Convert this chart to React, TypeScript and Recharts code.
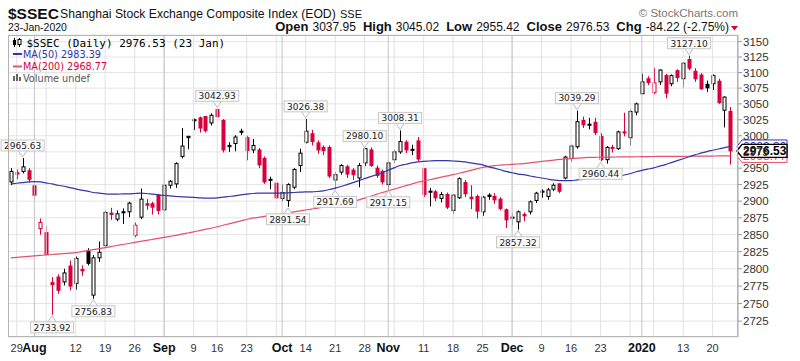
import React from 'react';
import { ComposedChart, Bar, Line, XAxis, YAxis, CartesianGrid, ReferenceLine, ReferenceDot } from 'recharts';

// ---------- data (index -1 = 26 Jul 2019, 121 = 23 Jan 2020, trading days) ----------
const FIRST_IDX = -1;
const priorClose = 2937.36;
const opens = [
  2929, 2943, 2945, 2946, 2923, 2859, 2853, 2780, 2788, 2781, 2804, 2779, 2799, 2825, 2762, 2816, 2834, 2882, 2873, 2884,
  2884, 2849, 2876, 2896, 2896, 2909, 2887, 2924, 2926, 2968, 2997, 3025, 3028, 3030, 3020, 3041, 3024, 2983, 2988, 3007,
  2997, 2978, 2978, 2965, 2933, 2927, 2904, 2901, 2921, 2954, 2990, 3003, 2989, 2982, 2982, 2932, 2944, 2952, 2947, 2935,
  2958, 2978, 2950, 2945, 2925, 2963, 2975, 2990, 2979, 2992, 2949, 2915, 2914, 2904, 2910, 2886, 2905, 2928, 2906, 2907,
  2884, 2909, 2907, 2903, 2887, 2876, 2869, 2880, 2884, 2901, 2915, 2907, 2918, 2926, 2935, 2965, 2983, 3024, 3018, 3021,
  2999, 2963, 2981, 2980, 3006, 2997, 3037, 3066, 3090, 3068, 3085, 3095, 3082, 3103, 3090, 3121, 3102, 3096, 3081, 3082,
  3086, 3040, 3037.95,
];
const highs = [
  2950, 2948, 2965.63, 2950, 2926, 2874, 2863, 2788, 2792, 2800, 2812, 2818, 2805, 2830, 2820, 2840, 2886, 2890, 2886, 2889,
  2899, 2868, 2919, 2903, 2899, 2911, 2926, 2932, 2959, 3012, 3000, 3027, 3030, 3031, 3035, 3042.93, 3026, 2990, 3001, 3011,
  3000, 2995, 2981, 2968, 2937, 2929, 2925, 2927, 2950, 2980, 3026.38, 3009, 2993, 2985, 2985, 2944, 2956, 2955, 2950, 2958,
  2980.1, 2982, 2954, 2948, 2960, 2978, 3008.31, 2993, 2986, 2998, 2950, 2920, 2917, 2914, 2913, 2911, 2936, 2932, 2924, 2910,
  2908, 2912, 2912, 2906, 2889, 2882, 2886, 2883, 2901, 2914, 2918, 2920, 2927, 2927, 2969, 2986, 3039.29, 3030, 3028, 3028,
  3004, 2984, 2986, 3008, 3036, 3041, 3052, 3098, 3094, 3107, 3105, 3098, 3097, 3105, 3117, 3127.1, 3107, 3099, 3087, 3097,
  3090, 3062, 3045.02,
];
const lows = [
  2924, 2933, 2942, 2928, 2902, 2850, 2819, 2733.92, 2764, 2776, 2769, 2770, 2790, 2805, 2756.83, 2810, 2830, 2872, 2870, 2866,
  2876, 2846, 2873, 2887, 2880, 2880, 2884, 2919, 2920, 2965, 2979, 3009, 3005, 3005, 3016, 3028, 2974, 2975, 2976, 3001,
  2962, 2973, 2950, 2926, 2918, 2903, 2900, 2891.54, 2918, 2944, 2988, 2985, 2972, 2970, 2935, 2917.69, 2940, 2935, 2932, 2921,
  2953, 2952, 2935, 2925, 2917.15, 2958, 2972, 2973, 2970, 2961, 2906, 2892, 2900, 2898, 2888, 2881, 2903, 2906, 2888, 2874,
  2878, 2902, 2896, 2886, 2860, 2864, 2857.32, 2870, 2880, 2897, 2905, 2902, 2915, 2912, 2933, 2960, 2980, 3012, 3010, 3001,
  2960.44, 2957, 2974, 2978, 2999, 2985, 3032, 3066, 3080, 3065, 3080, 3059, 3078, 3085, 3076, 3104, 3085, 3072, 3069, 3072,
  3050, 3013, 2955.42,
];
const closes = [
  2945, 2941, 2952, 2933, 2909, 2868, 2821, 2777, 2769, 2794, 2775, 2815, 2797, 2808, 2816, 2824, 2883, 2880, 2881, 2883,
  2897, 2864, 2903, 2894, 2891, 2886, 2924, 2930, 2957, 2984, 2999, 3024.7, 3012, 3008, 3032, 3030, 2978, 2985, 2998, 3006,
  2977, 2985, 2955, 2929, 2932, 2905, 2913, 2925, 2948, 2973, 3007, 2991, 2978, 2977, 2938, 2940, 2954, 2941, 2940, 2954,
  2980, 2954, 2939, 2929, 2958, 2975, 2991, 2978, 2978.7, 2964, 2910, 2914.8, 2905, 2910, 2891, 2909, 2934, 2911, 2903.6, 2885,
  2906, 2907, 2902, 2889, 2872, 2875.8, 2884, 2878, 2899, 2912, 2914.5, 2917, 2924, 2915, 2967, 2984, 3022, 3017, 3017.1, 3005,
  2963, 2982, 2981.9, 3006, 3005, 3038, 3050, 3085, 3084, 3083.4, 3104, 3067, 3095, 3092, 3115, 3107, 3090, 3074, 3075.5, 3095,
  3052, 3060.75, 2976.53,
];
const ma50 = [
  2926, 2927, 2928, 2929, 2929.5, 2929, 2927.5, 2926, 2924, 2922.5, 2920.5, 2918.5, 2916.5, 2915, 2913, 2912, 2911, 2910.5, 2910.5, 2911,
  2911, 2911.5, 2912, 2911.5, 2910.5, 2909.5, 2908.5, 2908, 2907, 2906.5, 2906, 2905.5, 2905, 2904.5, 2904.5, 2905, 2906, 2907, 2908, 2909.5,
  2910.5, 2911.5, 2912, 2912, 2912, 2912, 2912, 2912.5, 2913, 2913.5, 2914, 2914, 2914.5, 2915.5, 2917.5, 2919.5, 2922, 2925, 2928, 2931,
  2934, 2937, 2940, 2943, 2947, 2950.5, 2954, 2956, 2958, 2959.5, 2960.5, 2961, 2961.5, 2961.5, 2961.5, 2961, 2960.5, 2959.5, 2958, 2956.5,
  2955, 2952, 2950, 2947.5, 2945, 2943, 2941, 2940, 2938, 2936.5, 2935, 2933.5, 2932, 2931, 2931, 2931, 2932, 2933, 2934.5, 2935.5,
  2936.5, 2937, 2937.5, 2938, 2939.5, 2941.5, 2944.5, 2946.5, 2948.5, 2950.5, 2953, 2955.5, 2958.5, 2961.5, 2964.5, 2967.5, 2970.5, 2973, 2975.5, 2977.5,
  2979.5, 2981.5, 2983.39,
];
const ma200 = [
  2816, 2816.7, 2817.4, 2818.1, 2818.8, 2819.5, 2820.2, 2820.8, 2821.5, 2822.2, 2822.8, 2823.5, 2825, 2826.5, 2828, 2829.5, 2831, 2832.5, 2834, 2835.5,
  2837, 2838.5, 2840, 2841.5, 2843, 2844.5, 2846, 2847.5, 2849, 2850.8, 2852.5, 2854.2, 2856, 2857.8, 2859.5, 2861.7, 2863.9, 2866.1, 2868.3, 2870.5,
  2872.5, 2874.5, 2875.8, 2877.1, 2878.4, 2879.7, 2881, 2882.4, 2883.8, 2885.3, 2886.7, 2888.1, 2889.5, 2891.1, 2892.7, 2894.3, 2895.8, 2897.4, 2899, 2901.8,
  2904.6, 2907.4, 2910.2, 2913, 2915.6, 2918.2, 2920.8, 2923.3, 2925.9, 2928.5, 2930.4, 2932.3, 2934.3, 2936.2, 2938.1, 2940, 2942.2, 2944.4, 2946.6, 2948.8,
  2951, 2952.5, 2954, 2954.6, 2955.2, 2955.8, 2956.4, 2957, 2958.1, 2959.2, 2960.3, 2961.3, 2962.4, 2963.5, 2964.1, 2964.7, 2965.3, 2965.9, 2966.5, 2966.6,
  2966.8, 2966.9, 2967, 2967.2, 2967.3, 2967.4, 2967.5, 2967.6, 2967.8, 2967.9, 2968, 2968.1, 2968.1, 2968.2, 2968.2, 2968.3, 2968.4, 2968.5, 2968.5, 2968.6,
  2968.7, 2968.7, 2968.77,
];

const noteIdx = [1, 6, 13, 34, 46, 49, 54, 59, 63, 65, 85, 95, 99, 114];
const noteVals = [2965.63, 2733.92, 2756.83, 3042.93, 2891.54, 3026.38, 2917.69, 2980.1, 2917.15, 3008.31, 2857.32, 3039.29, 2960.44, 3127.1];
const noteSide = ['H', 'L', 'L', 'H', 'L', 'H', 'L', 'H', 'L', 'H', 'L', 'H', 'L', 'H'];

const tickIdx = [0, 3, 10, 15, 20, 25, 30, 34, 39, 45, 49, 54, 59, 63, 69, 74, 79, 84, 89, 94, 99, 106, 113, 118];
const tickLabels = ['29', 'Aug', '12', '19', '26', 'Sep', '9', '16', '23', 'Oct', '14', '21', '28', 'Nov', '11', '18', '25', 'Dec', '9', '16', '23', '2020', '13', '20'];
const monthLabels = ['Aug', 'Sep', 'Oct', 'Nov', 'Dec', '2020'];
const weekLines = [0, 5, 10, 15, 20, 25, 30, 34, 39, 44, 49, 54, 59, 64, 69, 74, 79, 84, 89, 94, 99, 104, 108, 113, 118];
const monthLines = [3, 25, 45, 63, 84, 106];
const yTicks = [2725, 2750, 2775, 2800, 2825, 2850, 2875, 2900, 2925, 2950, 2975, 3000, 3025, 3050, 3075, 3100, 3125, 3150];

const lastClose = 2976.53;
const lastMa50 = 2983.39;
const lastMa200 = 2968.77;

// ---------- layout / style ----------
const XMIN = -1.475;
const XMAX = 122.3;
const YMIN = 2702.7;
const YMAX = 3160.9;
const RED = '#d8003c';
const BLUE = '#3535a8';
const PINK = '#e5506c';
const SANS = '"Liberation Sans", Arial, sans-serif';
const VER = '"DejaVu Sans", Verdana, sans-serif';
const MONO = '"DejaVu Sans Mono", monospace';

const rows = opens.map((o, k) => ({
  i: k + FIRST_IDX,
  range: [lows[k], highs[k]],
  o,
  h: highs[k],
  l: lows[k],
  c: closes[k],
  prev: k > 0 ? closes[k - 1] : priorClose,
  ma50: ma50[k],
  ma200: ma200[k],
}));

const Candle = (props: any) => {
  const { x, y, width, height, payload } = props;
  if (x == null || y == null || !payload) return null;
  const top = Math.min(y, y + height);
  const bot = Math.max(y, y + height);
  const { o, h, l, c, prev } = payload;
  const lh = Math.log(h);
  const ll = Math.log(l);
  const py = (v: number) => top + ((bot - top) * (lh - Math.log(v))) / (lh - ll);
  const cx = Math.round(x + width / 2) + 0.5;
  const up = c >= o;
  const color = c < prev ? RED : '#000';
  const yo = py(o);
  const yc = py(c);
  const bt = Math.min(yo, yc);
  const bh = Math.max(1, Math.abs(yo - yc));
  return (
    <g>
      <line x1={cx} x2={cx} y1={top} y2={bot} stroke={color} strokeWidth={1} />
      <rect x={cx - 1.5} y={bt} width={3} height={bh} fill={up ? '#fff' : color} stroke={color} strokeWidth={1} />
    </g>
  );
};

const makeNote = (value: number, side: string) => (props: any) => {
  const { cx, cy } = props;
  if (cx == null || cy == null) return null;
  const w = 43;
  const hh = 11;
  const above = side === 'H';
  const by = above ? cy - 7 - hh : cy + 7;
  const edge = above ? by + hh : by;
  const tip = above ? cy - 1 : cy + 1;
  return (
    <g>
      <path d={`M${cx - 4},${edge} L${cx},${tip} L${cx + 4},${edge}`} fill="#fff" stroke="#bdbdbd" strokeWidth={1} />
      <rect x={cx - w / 2} y={by} width={w} height={hh} fill="#fafafa" stroke="#c8c8c8" strokeWidth={1} />
      <text x={cx} y={by + 8.8} textAnchor="middle" fontSize={9} fontFamily={VER} fill="#222">
        {value.toFixed(2)}
      </text>
    </g>
  );
};

const makeTag = (value: number, color: string, bold: boolean) => (props: any) => {
  const { cx, cy } = props;
  if (cx == null || cy == null) return null;
  const x0 = cx - 1;
  return (
    <g>
      <path
        d={`M${x0},${cy} L${x0 + 5},${cy - 6.5} L${x0 + 50},${cy - 6.5} L${x0 + 50},${cy + 6.5} L${x0 + 5},${cy + 6.5} Z`}
        fill="#fff"
        stroke={color}
        strokeWidth={bold ? 1.4 : 1}
      />
      <text x={x0 + 6} y={cy + 4.3} fontSize={12} fontWeight={bold ? 700 : 400} fontFamily={SANS} fill={color}>
        {value.toFixed(2)}
      </text>
    </g>
  );
};

const XTick = (props: any) => {
  const { x, y, payload } = props;
  const k = tickIdx.indexOf(payload.value);
  const label = k >= 0 ? tickLabels[k] : '';
  const bold = monthLabels.includes(label);
  return (
    <text x={x} y={y + 15} textAnchor="middle" fontFamily={SANS} fontSize={bold ? 12.5 : 11} fontWeight={bold ? 700 : 400} fill={bold ? '#111' : '#333'}>
      {label}
    </text>
  );
};

export default function App() {
  return (
    <div style={{ position: 'absolute', left: 0, top: 0, width: 800, height: 361, background: '#fff', overflow: 'hidden' }}>
      <ComposedChart width={800} height={361} data={rows} margin={{ top: 35, right: 0, bottom: 0, left: 8 }}>
        <CartesianGrid horizontal vertical={false} stroke="#e4e4e4" />
        {weekLines.map((w) => (
          <ReferenceLine key={'w' + w} x={w} stroke="#e2e2e2" strokeWidth={1} />
        ))}
        {monthLines.map((m) => (
          <ReferenceLine key={'m' + m} x={m} stroke="#c4c4c4" strokeWidth={1} />
        ))}
        <XAxis
          dataKey="i"
          type="number"
          domain={[XMIN, XMAX]}
          allowDataOverflow
          ticks={tickIdx}
          interval={0}
          tick={<XTick />}
          tickLine={false}
          axisLine={false}
          tickSize={0}
          tickMargin={0}
          height={24}
        />
        <YAxis
          orientation="right"
          type="number"
          scale="log"
          domain={[YMIN, YMAX]}
          allowDataOverflow
          ticks={yTicks}
          interval={0}
          width={62}
          tickSize={4}
          tickMargin={1}
          tickLine={{ stroke: '#999' }}
          axisLine={{ stroke: '#a8a8a8' }}
          tick={{ fontSize: 11.5, fontFamily: SANS, fill: '#333' }}
        />
        <Bar dataKey="range" barSize={4} shape={<Candle />} isAnimationActive={false} />
        <Line dataKey="ma200" type="monotone" stroke={PINK} strokeWidth={1.2} dot={false} isAnimationActive={false} />
        <Line dataKey="ma50" type="monotone" stroke={BLUE} strokeWidth={1.2} dot={false} isAnimationActive={false} />
        {noteIdx.map((ix, k) => (
          <ReferenceDot key={'n' + ix} x={ix} y={noteVals[k]} r={0} ifOverflow="visible" shape={makeNote(noteVals[k], noteSide[k])} />
        ))}
        <ReferenceDot x={XMAX} y={lastMa50} r={0} ifOverflow="visible" shape={makeTag(lastMa50, BLUE, false)} />
        <ReferenceDot x={XMAX} y={lastMa200} r={0} ifOverflow="visible" shape={makeTag(lastMa200, PINK, false)} />
        <ReferenceDot x={XMAX} y={lastClose} r={0} ifOverflow="visible" shape={makeTag(lastClose, '#000', true)} />
      </ComposedChart>

      {/* plot frame */}
      <div style={{ position: 'absolute', left: 8, top: 35, width: 730, height: 302, border: '1px solid #b4b4b4', boxSizing: 'border-box', pointerEvents: 'none' }} />

      {/* header + legend */}
      <svg width={800} height={361} style={{ position: 'absolute', left: 0, top: 0, pointerEvents: 'none' }}>
        <text x={8} y={18.5} fontFamily={SANS} fontSize={15.5} fontWeight={700} fill="#111">$SSEC</text>
        <text x={60} y={17.5} fontFamily={SANS} fontSize={12.2} fill="#111">Shanghai Stock Exchange Composite Index (EOD)</text>
        <text x={340} y={17.5} fontFamily={SANS} fontSize={11} fill="#111">SSE</text>
        <text x={738} y={17} textAnchor="end" fontFamily={SANS} fontSize={11.5} fill="#777">© StockCharts.com</text>
        <text x={8} y={30.7} fontFamily={SANS} fontSize={10.5} fill="#111">23-Jan-2020</text>
        <text x={729} y={30.7} textAnchor="end" fontFamily={SANS} fill="#111">
          <tspan fontWeight={700} fontSize={13}>Open</tspan>
          <tspan fontSize={12} dx={4}>3037.95</tspan>
          <tspan fontWeight={700} fontSize={13} dx={7}>High</tspan>
          <tspan fontSize={12} dx={4}>3045.02</tspan>
          <tspan fontWeight={700} fontSize={13} dx={7}>Low</tspan>
          <tspan fontSize={12} dx={4}>2955.42</tspan>
          <tspan fontWeight={700} fontSize={13} dx={7}>Close</tspan>
          <tspan fontSize={12} dx={4}>2976.53</tspan>
          <tspan fontWeight={700} fontSize={13} dx={7}>Chg</tspan>
          <tspan fontSize={12} dx={4}>-84.22 (-2.75%)</tspan>
        </text>
        <path d="M731,26 L738,26 L734.5,30.5 Z" fill={RED} />

        {/* legend */}
        <g>
          <line x1={14.5} x2={14.5} y1={38} y2={47} stroke="#000" strokeWidth={1} />
          <rect x={13} y={40} width={3} height={5} fill="#000" />
          <line x1={19.5} x2={19.5} y1={38} y2={47} stroke="#000" strokeWidth={1} />
          <rect x={18} y={39.5} width={3} height={5} fill="#fff" stroke="#000" strokeWidth={1} />
        </g>
        <text x={26.5} y={46.5} fontFamily={MONO} fontSize={11} fill="#000">$SSEC (Daily) 2976.53 (23 Jan)</text>
        <line x1={13} x2={22} y1={54} y2={54} stroke={BLUE} strokeWidth={2} />
        <text x={23} y={57.5} fontFamily={VER} fontSize={9.7} fill={BLUE}>MA(50) 2983.39</text>
        <line x1={13} x2={22} y1={66.5} y2={66.5} stroke={PINK} strokeWidth={2} />
        <text x={23} y={70} fontFamily={VER} fontSize={9.7} fill={RED}>MA(200) 2968.77</text>
        <g fill="#666">
          <rect x={13} y={76} width={2} height={5} />
          <rect x={16} y={74} width={2} height={7} />
          <rect x={19} y={77} width={2} height={4} />
        </g>
        <text x={23} y={82} fontFamily={VER} fontSize={9.7} fill="#555">Volume undef</text>
      </svg>
    </div>
  );
}
